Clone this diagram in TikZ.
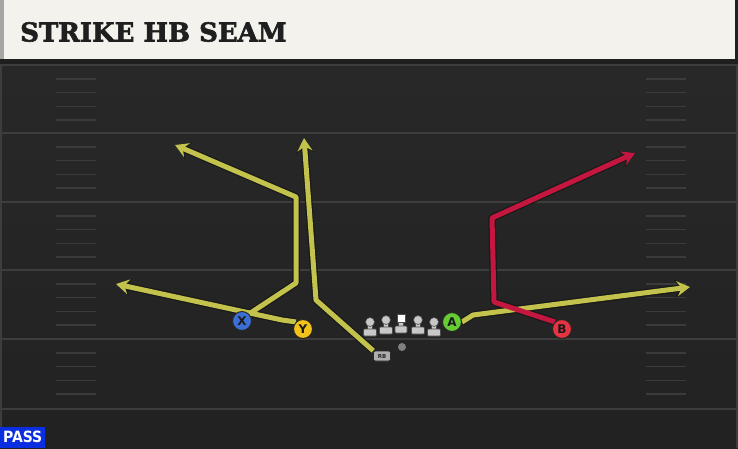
\documentclass[tikz,border=0pt]{standalone}
\usepackage{fontspec}
\usetikzlibrary{arrows.meta}
\newfontfamily\titlefont{DejaVu Serif}[BoldFont={DejaVu Serif Bold}, BoldFeatures={FakeBold=2.2}]
\newfontfamily\plfont{DejaVu Sans}
\newfontfamily\passfont{DejaVu Sans Condensed}
\definecolor{fieldtop}{HTML}{292929}
\definecolor{fieldbot}{HTML}{222222}
\definecolor{hdr}{HTML}{F4F2EC}
\definecolor{yardc}{HTML}{3D3D3D}
\definecolor{hashc}{HTML}{3B3B3B}
\definecolor{routey}{HTML}{C3C24C}
\definecolor{router}{HTML}{C4173F}
\definecolor{pX}{HTML}{3C6FD6}
\definecolor{pY}{HTML}{F2C21A}
\definecolor{pA}{HTML}{66CC33}
\definecolor{pB}{HTML}{E53341}
\definecolor{olc}{HTML}{C8C8C8}
\definecolor{passblue}{HTML}{0A2EE0}
\tikzset{
  yard/.style={draw=yardc, line width=2pt},
  hashm/.style={draw=hashc, line width=1.6pt},
  player/.style={circle, draw=black!85, line width=1pt, minimum size=19pt, inner sep=0pt, font=\plfont\bfseries\fontsize{12}{12}\selectfont, text=black!90},
  rbbox/.style={rounded corners=2pt, fill=black!32, draw=black!85, line width=0.6pt, minimum width=17pt, minimum height=10pt, inner sep=0pt, font=\plfont\bfseries\fontsize{5.5}{5.5}\selectfont, text=black!85},
  routeout/.style={draw=black!90, line width=7.5pt, line join=round},
  routein/.style={line width=5pt, line join=round},
  tipout/.style={-{Stealth[length=15pt,width=18pt,inset=5.5pt]}},
  tipin/.style={-{Stealth[length=13pt,width=15pt,inset=4.5pt]}},
  lineman/.style={fill=olc, draw=black!70, line width=0.6pt},
}
\begin{document}
\begin{tikzpicture}[x=1pt,y=-1pt]
\useasboundingbox (0,0) rectangle (738,448);
% field
\shade[top color=fieldtop, bottom color=fieldbot] (0,0) rectangle (738,448);
% header
\fill[hdr] (0,0) rectangle (735,59);
\fill[black!35] (0,0) rectangle (4,59);
\fill[black!88] (735,0) rectangle (738,59);
\fill[black!88] (0,59) rectangle (738,64);
\draw[yardc, line width=1.2pt] (0,65) -- (738,65);
\draw[yardc, line width=1.5pt] (1,65) -- (1,448);
\draw[yardc, line width=1.5pt] (737,65) -- (737,448);
\node[anchor=west, inner sep=0pt, text=black!88, font=\titlefont\bfseries\fontsize{26}{26}\selectfont] (title) at (20,32) {STRIKE HB SEAM};
% yard lines
\foreach \yy in {133,202,270,339,409} \draw[yard] (2,\yy) -- (736,\yy);
% hash marks
\foreach \b in {65,133,202,270,339} {
  \foreach \k in {1,2,3,4} {
    \draw[hashm] (56,\b+13.8*\k) -- (96,\b+13.8*\k);
    \draw[hashm] (646,\b+13.8*\k) -- (686,\b+13.8*\k);
  }
}
% players
\node[player, fill=pX] (X) at (242,321) {X};
\node[player, fill=pY] (Y) at (303,329) {Y};
\node[player, fill=pA] (A) at (452,322) {A};
\node[player, fill=pB] (B) at (562,329) {B};
\node[rbbox] (RB) at (382,356) {RB};
\node[circle, fill=black!50, minimum size=8pt, inner sep=0pt] (QB) at (402,347) {};
% route points
\coordinate (x1) at (296,283);
\coordinate (x2) at (296,197);
\coordinate (x3) at (175,145);
\coordinate (y1) at (282,320);
\coordinate (y2) at (116,284);
\coordinate (r1) at (316,300);
\coordinate (r2) at (304,138);
\coordinate (a1) at (473,315);
\coordinate (a2) at (690,287);
\coordinate (b1) at (494,302);
\coordinate (b2) at (492,218);
\coordinate (b3) at (635,153);
% route outlines
\draw[routeout, tipout] (Y.north west) -- (y1) -- (y2);
\draw[routeout, tipout] (X.north east) -- (x1) -- (x2) -- (x3);
\draw[routeout, tipout] (RB.north west) -- (r1) -- (r2);
\draw[routeout, tipout] (A.east) -- (a1) -- (a2);
\draw[routeout, tipout] (B.north west) -- (b1) -- (b2) -- (b3);
\draw[routein, routey, tipin] (Y.north west) -- (y1) -- (y2);
\draw[routein, routey, tipin] (X.north east) -- (x1) -- (x2) -- (x3);
\draw[routein, routey, tipin] (RB.north west) -- (r1) -- (r2);
\draw[routein, routey, tipin] (A.east) -- (a1) -- (a2);
\draw[routein, router, tipin] (B.north west) -- (b1) -- (b2) -- (b3);
% redraw players on top
\node[player, fill=pX] at (X) {X};
\node[player, fill=pY] at (Y) {Y};
\node[player, fill=pA] at (A) {A};
\node[player, fill=pB] at (B) {B};
\node[rbbox] at (RB) {RB};
% linemen
\foreach \xx/\hy in {370/322, 386/320, 418/320, 434/322} {
  \filldraw[lineman] (\xx-2.5,\hy) rectangle (\xx+2.5,\hy+8);
  \filldraw[lineman, rounded corners=1pt] (\xx-6.5,\hy+7) rectangle (\xx+6.5,\hy+14);
  \filldraw[lineman] (\xx,\hy) circle (4.5);
}
\filldraw[lineman] (398.5,320) rectangle (403.5,327);
\filldraw[lineman, rounded corners=1pt] (395,326) rectangle (407,333);
\filldraw[fill=white, draw=black!70, line width=0.6pt] (397,314) rectangle (405,322);
% PASS label
\node[fill=passblue, anchor=south west, minimum width=45pt, minimum height=21pt, inner sep=0pt, text=white, font=\passfont\bfseries\fontsize{15.5}{15.5}\selectfont] (pass) at (0,448) {PASS};
\end{tikzpicture}
\end{document}
